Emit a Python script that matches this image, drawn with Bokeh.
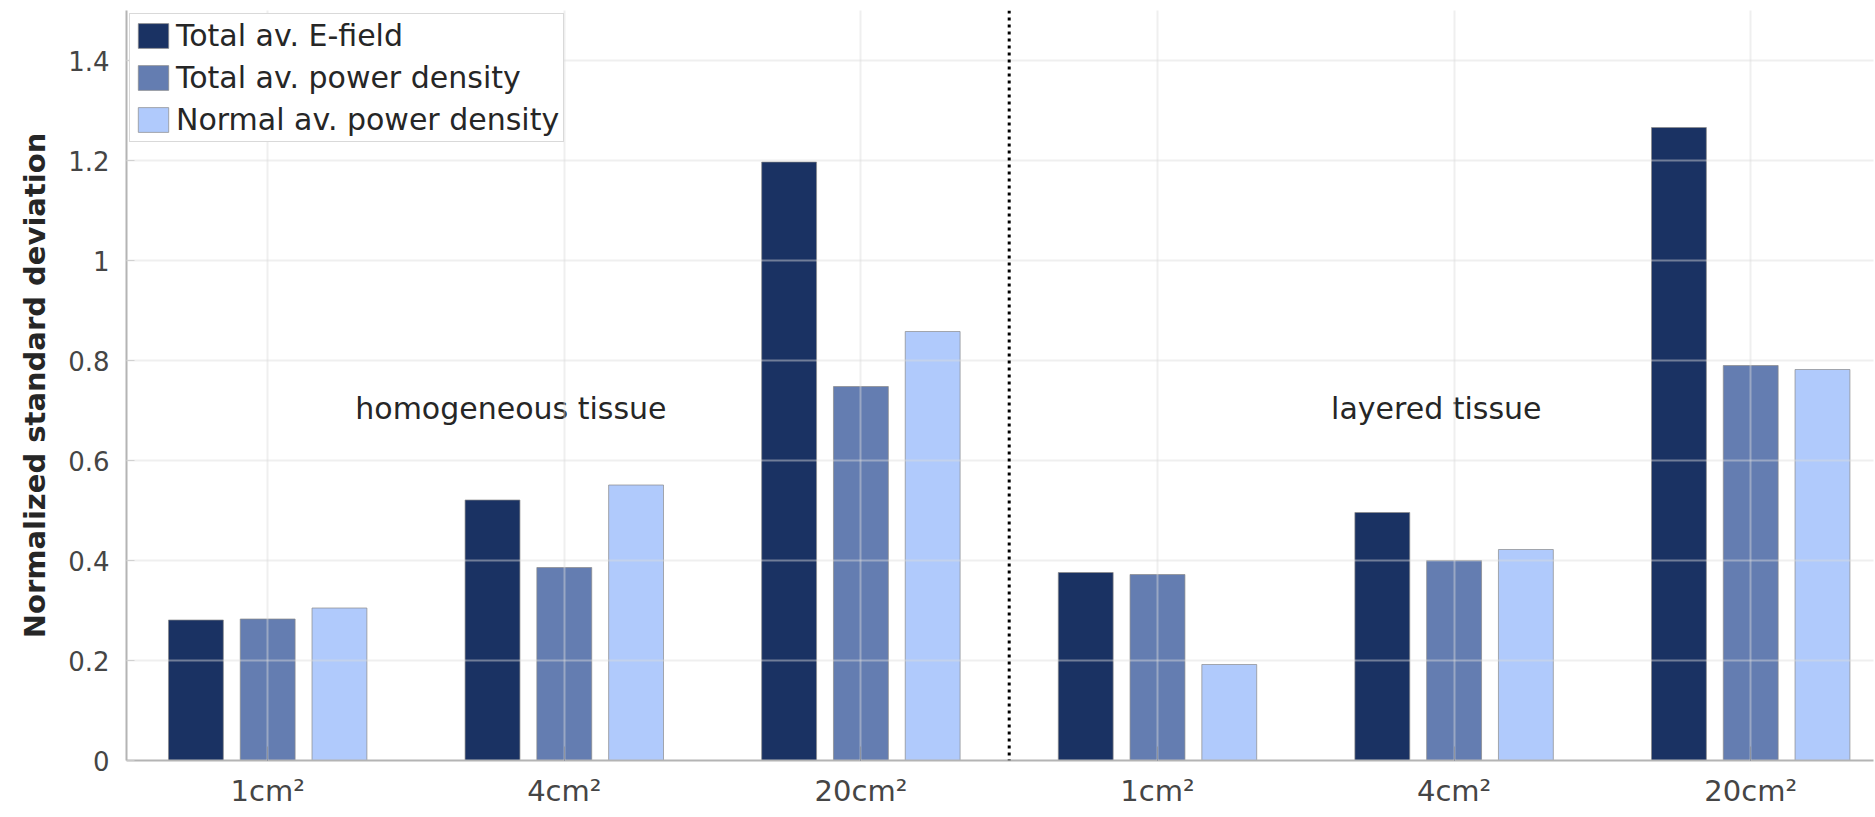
from bokeh.plotting import figure
from bokeh.models import ColumnDataSource, Span, FixedTicker
from bokeh.transform import dodge
from bokeh.core.properties import value
from bokeh.embed import file_html
from bokeh.resources import INLINE

# Averaging areas, first for homogeneous tissue, then for layered tissue
areas = ["1cm²", "4cm²", "20cm²", "1cm²", "4cm²", "20cm²"]
tissues = ["homogeneous tissue", "layered tissue"]

# Normalized standard deviation per averaging area
total_e_field = [0.281, 0.521, 1.197, 0.376, 0.496, 1.266]
total_power_density = [0.283, 0.386, 0.748, 0.372, 0.400, 0.790]
normal_power_density = [0.305, 0.551, 0.858, 0.192, 0.422, 0.782]

series_names = ["Total av. E-field", "Total av. power density", "Normal av. power density"]
y_ticks = [0, 0.2, 0.4, 0.6, 0.8, 1, 1.2, 1.4]
y_tick_labels = ["0", "0.2", "0.4", "0.6", "0.8", "1", "1.2", "1.4"]

FONT = "DejaVu Sans"
colors = ["#1a3263", "#647db1", "#b0cafc"]
offsets = [-0.242, 0.0, 0.242]
bar_width = 0.185

positions = list(range(1, len(areas) + 1))
source = ColumnDataSource(dict(
    x=positions,
    e=total_e_field,
    p=total_power_density,
    n=normal_power_density,
))

p = figure(width=1875, height=817, x_range=(0.524, 6.414), y_range=(0, 1.5),
           output_backend="svg", toolbar_location=None,
           min_border_left=126, min_border_right=2,
           min_border_top=10, min_border_bottom=57)
p.outline_line_color = None
p.background_fill_color = "white"
p.border_fill_color = "white"

for col, name, color, off in zip(["e", "p", "n"], series_names, colors, offsets):
    p.vbar(x=dodge("x", off, range=p.x_range), top=col, width=bar_width,
           source=source, fill_color=color, line_color="#8a8a8a",
           line_alpha=0.7, line_width=1, legend_label=name)

# group labels
label_x = [1.82, 4.94]
label_y = [0.705, 0.705]
p.text(x=label_x, y=label_y, text=tissues, text_align="center",
       text_baseline="middle", text_font=value(FONT),
       text_font_size="30px", text_color="#262626")

# separator between the two tissue models
p.add_layout(Span(location=3.5, dimension="height", line_color="black",
                  line_dash="3 4", line_width=3))

# axes
p.xaxis.ticker = FixedTicker(ticks=positions)
p.xaxis.major_label_overrides = {x: a for x, a in zip(positions, areas)}
p.yaxis.ticker = FixedTicker(ticks=y_ticks)
p.yaxis.major_label_overrides = {t: s for t, s in zip(y_ticks, y_tick_labels)}

for ax in (p.xaxis[0], p.yaxis[0]):
    ax.axis_line_color = "#b4b4b4"
    ax.axis_line_width = 2
    ax.major_tick_out = 0
    ax.minor_tick_line_color = None
    ax.major_label_text_font = FONT
    ax.major_label_text_color = "#454545"

p.xaxis.major_label_text_font_size = "29px"
p.xaxis.major_tick_in = 14
p.xaxis.major_tick_line_color = "#505a70"
p.xaxis.major_label_standoff = 13
p.yaxis.major_label_text_font_size = "26px"
p.yaxis.major_tick_in = 8
p.yaxis.major_tick_line_color = "#c8c8c8"
p.yaxis.major_label_standoff = 17

p.yaxis.axis_label = "Normalized standard deviation"
p.yaxis.axis_label_text_font = FONT
p.yaxis.axis_label_text_font_style = "bold"
p.yaxis.axis_label_text_font_size = "29px"
p.yaxis.axis_label_text_color = "#262626"
p.yaxis.axis_label_standoff = 13

# grid drawn over the bars
p.xgrid.ticker = FixedTicker(ticks=positions)
p.ygrid.ticker = FixedTicker(ticks=y_ticks)
for g in (p.xgrid[0], p.ygrid[0]):
    g.level = "guide"
    g.grid_line_color = "#dcdcdc"
    g.grid_line_alpha = 0.45
    g.grid_line_width = 2

# legend
lg = p.legend[0]
lg.location = "top_left"
lg.margin = 3
lg.padding = 4
lg.spacing = 7
lg.glyph_width = 38
lg.glyph_height = 31
lg.label_height = 31
lg.label_standoff = 4
lg.label_text_font = FONT
lg.label_text_font_size = "30px"
lg.label_text_color = "#262626"
lg.border_line_color = "#b3b3b3"
lg.border_line_width = 1
lg.background_fill_alpha = 1.0

open("out.html", "w").write(file_html(p, INLINE))
